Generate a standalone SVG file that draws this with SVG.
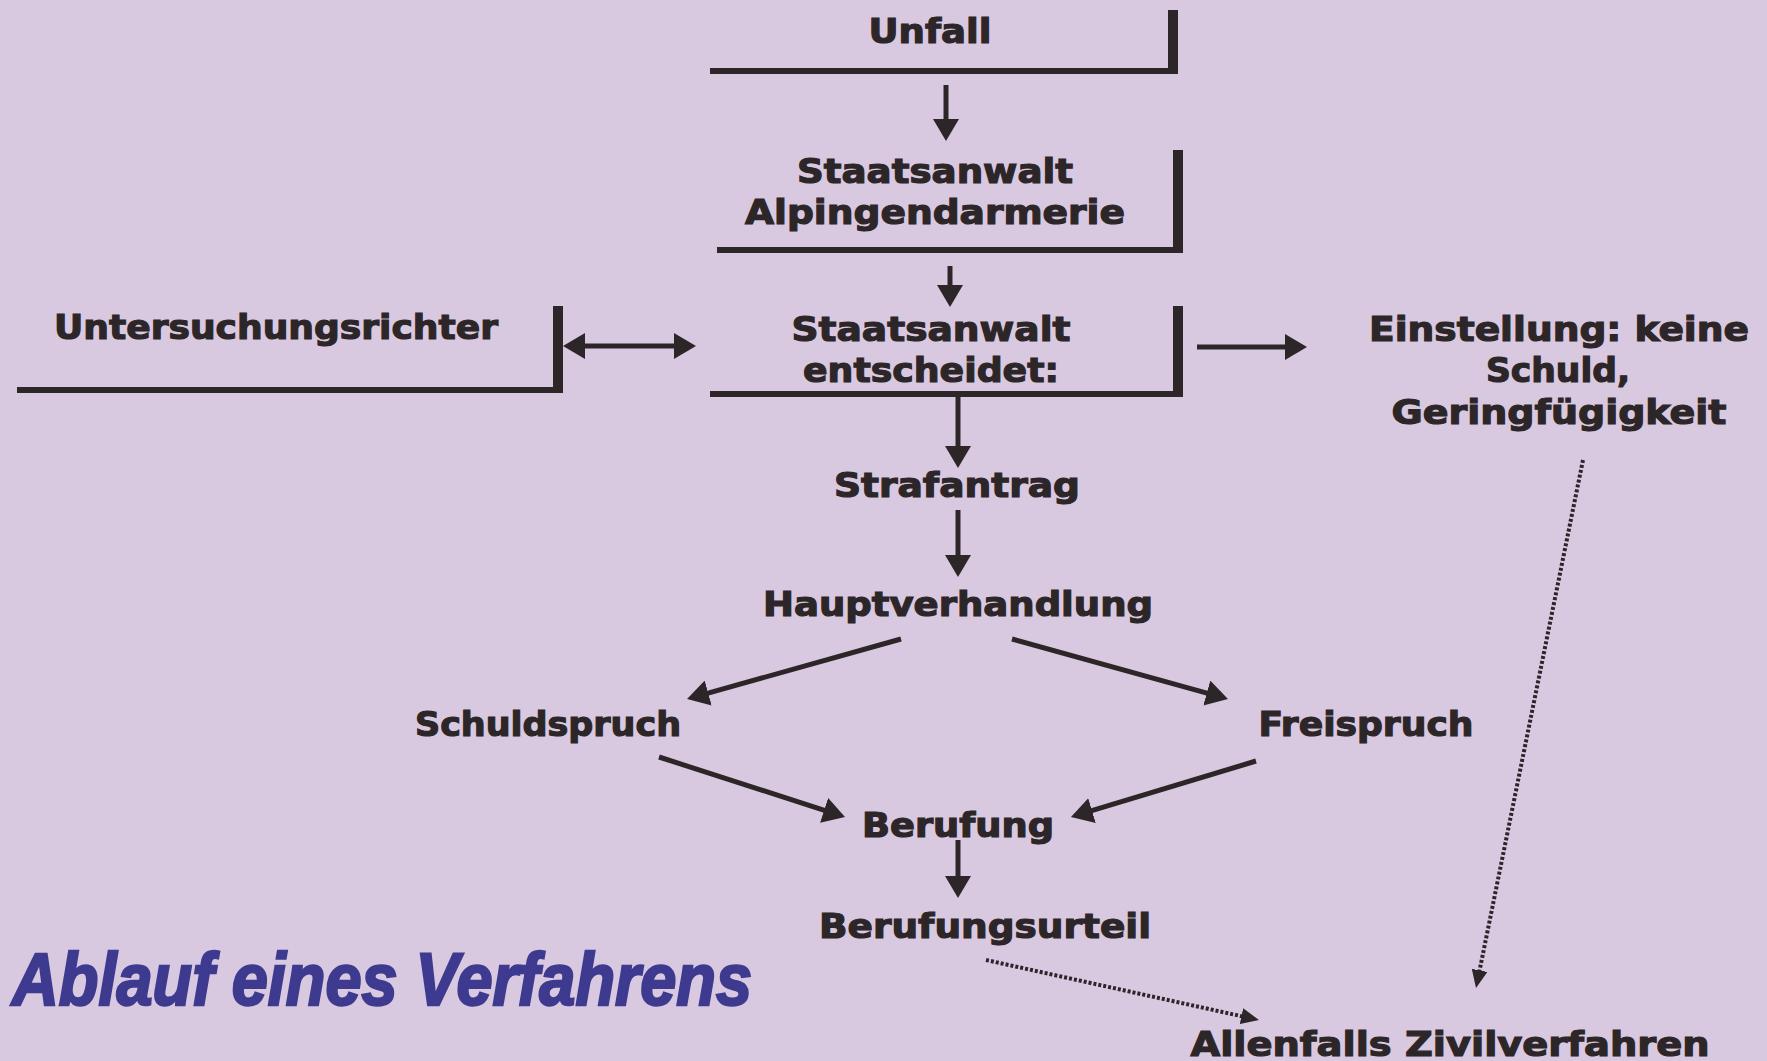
<svg xmlns="http://www.w3.org/2000/svg" width="1767" height="1061" viewBox="0 0 1767 1061">
<style>
.lbl{font-family:"DejaVu Sans","Liberation Sans",sans-serif;font-weight:bold;font-size:34px;fill:#2d2629;stroke:#2d2629;stroke-width:1.2;text-anchor:middle}
.frame{fill:none;stroke:#2d2629;stroke-width:6}
.bar{stroke:#2d2629;stroke-width:10}
.arr{fill:none;stroke:#2d2629;stroke-width:5}
.dot{fill:none;stroke:#2d2629;stroke-width:4;stroke-dasharray:3 2}
.title{font-family:"Liberation Sans",Arial,sans-serif;font-weight:bold;font-style:italic;font-size:74px;fill:#3d3a8f;stroke:#3d3a8f;stroke-width:2.5}
</style>
<defs>
<marker id="ah" viewBox="0 0 22 26" refX="2" refY="13" markerWidth="22" markerHeight="26" markerUnits="userSpaceOnUse" orient="auto-start-reverse">
<path d="M0,0 L22,13 L0,26 z" fill="#2d2629"/>
</marker>
<marker id="ahs" viewBox="0 0 18 16" refX="2" refY="8" markerWidth="18" markerHeight="16" markerUnits="userSpaceOnUse" orient="auto">
<path d="M0,0 L18,8 L0,16 z" fill="#2d2629"/>
</marker>
</defs>
<rect width="1767" height="1061" fill="#d9c9e0"/>

<g id="unfall">
<line class="frame" x1="710" y1="71" x2="1178" y2="71"/>
<line class="bar" x1="1173" y1="10" x2="1173" y2="74"/>
<text class="lbl" x="930" y="43" textLength="123" lengthAdjust="spacingAndGlyphs">Unfall</text>
</g>

<g id="staatsanwalt-alpin">
<line class="frame" x1="717" y1="250" x2="1183" y2="250"/>
<line class="bar" x1="1178" y1="150" x2="1178" y2="253"/>
<text class="lbl" x="935" y="183" textLength="276" lengthAdjust="spacingAndGlyphs">Staatsanwalt</text>
<text class="lbl" x="935" y="224" textLength="380" lengthAdjust="spacingAndGlyphs">Alpingendarmerie</text>
</g>

<g id="untersuchungsrichter">
<line class="frame" x1="17" y1="390" x2="563" y2="390"/>
<line class="bar" x1="558" y1="306" x2="558" y2="393"/>
<text class="lbl" x="276" y="339" textLength="444" lengthAdjust="spacingAndGlyphs">Untersuchungsrichter</text>
</g>

<g id="staatsanwalt-entscheidet">
<line class="frame" x1="710" y1="394" x2="1183" y2="394"/>
<line class="bar" x1="1178" y1="306" x2="1178" y2="397"/>
<text class="lbl" x="931" y="341" textLength="279" lengthAdjust="spacingAndGlyphs">Staatsanwalt</text>
<text class="lbl" x="931" y="382" textLength="256" lengthAdjust="spacingAndGlyphs">entscheidet:</text>
</g>

<g id="einstellung">
<text class="lbl" x="1559" y="341" textLength="380" lengthAdjust="spacingAndGlyphs">Einstellung: keine</text>
<text class="lbl" x="1558" y="382" textLength="144" lengthAdjust="spacingAndGlyphs">Schuld,</text>
<text class="lbl" x="1559" y="424" textLength="335" lengthAdjust="spacingAndGlyphs">Geringfügigkeit</text>
</g>

<g id="strafantrag"><text class="lbl" x="957" y="497" textLength="246" lengthAdjust="spacingAndGlyphs">Strafantrag</text></g>
<g id="hauptverhandlung"><text class="lbl" x="958" y="616" textLength="390" lengthAdjust="spacingAndGlyphs">Hauptverhandlung</text></g>
<g id="schuldspruch"><text class="lbl" x="548" y="736" textLength="266" lengthAdjust="spacingAndGlyphs">Schuldspruch</text></g>
<g id="freispruch"><text class="lbl" x="1366" y="736" textLength="215" lengthAdjust="spacingAndGlyphs">Freispruch</text></g>
<g id="berufung"><text class="lbl" x="958" y="837" textLength="192" lengthAdjust="spacingAndGlyphs">Berufung</text></g>
<g id="berufungsurteil"><text class="lbl" x="985" y="938" textLength="332" lengthAdjust="spacingAndGlyphs">Berufungsurteil</text></g>
<g id="zivilverfahren"><text class="lbl" x="1450" y="1056" textLength="519" lengthAdjust="spacingAndGlyphs">Allenfalls Zivilverfahren</text></g>

<g id="title"><text class="title" x="12" y="1005" textLength="740" lengthAdjust="spacingAndGlyphs">Ablauf eines Verfahrens</text></g>

<g id="connectors">
<line class="arr" x1="946" y1="85" x2="946" y2="121" marker-end="url(#ah)"/>
<line class="arr" x1="950" y1="266" x2="950" y2="287" marker-end="url(#ah)"/>
<line class="arr" x1="583" y1="346" x2="676" y2="346" marker-start="url(#ah)" marker-end="url(#ah)"/>
<line class="arr" x1="1197" y1="347" x2="1287" y2="347" marker-end="url(#ah)"/>
<line class="arr" x1="958" y1="394" x2="958" y2="448" marker-end="url(#ah)"/>
<line class="arr" x1="958" y1="510" x2="958" y2="557" marker-end="url(#ah)"/>
<line class="arr" x1="901" y1="639" x2="706.3" y2="693.6" marker-end="url(#ah)"/>
<line class="arr" x1="1012" y1="639" x2="1208.7" y2="693.6" marker-end="url(#ah)"/>
<line class="arr" x1="659" y1="757" x2="826" y2="810.9" marker-end="url(#ah)"/>
<line class="arr" x1="1256" y1="761" x2="1090.1" y2="811.2" marker-end="url(#ah)"/>
<line class="arr" x1="958" y1="840" x2="958" y2="878" marker-end="url(#ah)"/>
<line class="dot" x1="986" y1="960" x2="1243.4" y2="1016.6" marker-end="url(#ahs)"/>
<line class="dot" x1="1583" y1="460" x2="1479.2" y2="972.3" marker-end="url(#ahs)"/>
</g>
</svg>
